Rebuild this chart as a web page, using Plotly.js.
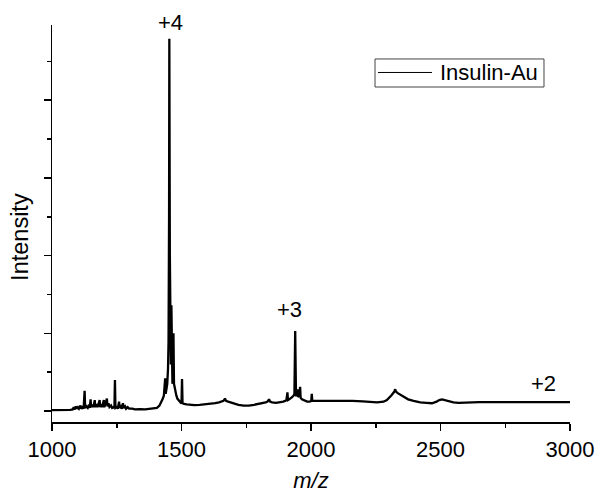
<!DOCTYPE html>
<html>
<head>
<meta charset="utf-8">
<script src="https://cdn.plot.ly/plotly-3.0.1.min.js"></script>
<style>html,body{margin:0;padding:0;background:#fff;}#chart{width:598px;height:493px;}</style>
</head>
<body>
<div id="chart"></div>
<script>
// m/z values (x) and intensity (arbitrary units, y)
const mz = [
  1000, 1040, 1070, 1080, 1084, 1087, 1092, 1095, 1100, 1104, 1110, 1113, 1118, 1122,
  1126, 1128, 1133, 1138, 1143, 1146, 1149, 1151, 1156, 1160, 1165, 1167, 1172, 1176,
  1180, 1184, 1186, 1190, 1194, 1200, 1202, 1206, 1212, 1214, 1218, 1222, 1228, 1232,
  1238, 1241, 1243, 1245, 1250, 1254, 1259, 1261, 1266, 1270, 1274, 1276, 1282, 1286,
  1292, 1298, 1310, 1320, 1340, 1360, 1380, 1395, 1405, 1415, 1422, 1428, 1432, 1435,
  1437, 1439, 1442, 1445, 1448, 1450, 1452, 1453, 1455, 1457, 1459, 1461, 1463, 1465,
  1467, 1469, 1471, 1474, 1477, 1480, 1484, 1488, 1492, 1496, 1500, 1502, 1504, 1510,
  1520, 1530, 1550, 1570, 1590, 1610, 1630, 1645, 1655, 1662, 1668, 1672, 1680, 1690,
  1700, 1720, 1740, 1760, 1780, 1800, 1815, 1825, 1832, 1838, 1842, 1850, 1865, 1880,
  1893, 1900, 1905, 1909, 1911, 1916, 1922, 1928, 1933, 1936, 1939, 1942, 1945, 1948,
  1950, 1955, 1958, 1960, 1965, 1970, 1978, 1985, 1995, 2001, 2003, 2005, 2015, 2040,
  2080, 2120, 2160, 2200, 2230, 2255, 2280, 2293, 2310, 2318, 2322, 2325, 2328, 2335,
  2345, 2357, 2375, 2396, 2422, 2445, 2467, 2485, 2495, 2506, 2518, 2530, 2550, 2570,
  2600, 2650, 2700, 2750, 2800, 2850, 2900, 2950, 3000
];
const intensity = [
  0.010, 0.010, 0.015, 0.020, 0.050, 0.020, 0.060, 0.030, 0.050, 0.030, 0.070, 0.030, 0.050, 0.030,
  0.260, 0.040, 0.060, 0.040, 0.080, 0.040, 0.150, 0.050, 0.080, 0.050, 0.140, 0.050, 0.090, 0.050,
  0.100, 0.140, 0.050, 0.090, 0.050, 0.140, 0.050, 0.100, 0.160, 0.060, 0.100, 0.050, 0.070, 0.040,
  0.050, 0.040, 0.400, 0.040, 0.050, 0.030, 0.120, 0.040, 0.060, 0.030, 0.100, 0.040, 0.060, 0.030,
  0.050, 0.030, 0.030, 0.020, 0.025, 0.020, 0.025, 0.030, 0.040, 0.070, 0.110, 0.160, 0.200, 0.300,
  0.420, 0.220, 0.280, 0.350, 0.550, 0.900, 2.500, 4.790, 2.000, 0.800, 0.600, 1.360, 0.500, 0.350,
  0.450, 1.000, 0.350, 0.300, 0.220, 0.200, 0.160, 0.140, 0.120, 0.110, 0.100, 0.410, 0.100, 0.090,
  0.085, 0.080, 0.075, 0.080, 0.085, 0.090, 0.100, 0.110, 0.120, 0.130, 0.160, 0.130, 0.120, 0.110,
  0.100, 0.080, 0.070, 0.070, 0.080, 0.090, 0.100, 0.110, 0.120, 0.150, 0.120, 0.110, 0.105, 0.110,
  0.120, 0.130, 0.140, 0.240, 0.140, 0.150, 0.160, 0.180, 0.200, 0.220, 1.030, 0.200, 0.200, 0.280,
  0.180, 0.200, 0.310, 0.170, 0.150, 0.140, 0.130, 0.120, 0.120, 0.130, 0.220, 0.130, 0.130, 0.130,
  0.135, 0.135, 0.130, 0.125, 0.115, 0.110, 0.120, 0.140, 0.200, 0.230, 0.250, 0.280, 0.250, 0.230,
  0.210, 0.180, 0.150, 0.130, 0.110, 0.105, 0.100, 0.120, 0.140, 0.150, 0.140, 0.125, 0.110, 0.105,
  0.110, 0.115, 0.115, 0.115, 0.115, 0.115, 0.115, 0.115, 0.115
];
const seriesName = "Insulin-Au";
const chargeLabels = ["+4", "+3", "+2"];
const chargeMz = [1456, 1918, 2899];
const chargeY = [5.0, 1.30, 0.36];
const xTickVals = [1000, 1500, 2000, 2500, 3000];
const xTickText = ["1000", "1500", "2000", "2500", "3000"];

const FONT = "Liberation Sans, Arial, sans-serif";
const Y_RANGE = [-0.1416, 4.968];

const trace = {
  x: mz, y: intensity, type: "scatter", mode: "lines",
  name: seriesName, showlegend: false,
  line: {color: "#000000", width: 2.3}
};

// charge-state labels; y converted to paper fraction so the +4 label above the axis top is still drawn
const annotations = chargeLabels.map((t, i) => ({
  x: chargeMz[i], xref: "x",
  y: (chargeY[i] - Y_RANGE[0]) / (Y_RANGE[1] - Y_RANGE[0]), yref: "paper",
  text: t, showarrow: false, xanchor: "center", yanchor: "middle",
  font: {family: FONT, size: 22, color: "#000"}
}));
annotations.push({
  x: -0.062, y: 0.466, xref: "paper", yref: "paper", text: "Intensity",
  textangle: -90, showarrow: false, xanchor: "center", yanchor: "middle",
  font: {family: FONT, size: 23.5, color: "#000"}
});
annotations.push({
  x: 0.7452, y: 0.8804, xref: "paper", yref: "paper", text: seriesName,
  showarrow: false, xanchor: "left", yanchor: "middle",
  font: {family: FONT, size: 22, color: "#000"}
});

const layout = {
  width: 598, height: 493,
  margin: {l: 52, r: 28, t: 25, b: 71},
  paper_bgcolor: "#fff", plot_bgcolor: "#fff",
  font: {family: FONT, color: "#000"},
  xaxis: {
    range: [1000, 3000], tickvals: xTickVals, ticktext: xTickText,
    ticks: "outside", ticklen: 7, tickwidth: 1.5, tickcolor: "#000",
    showline: true, linecolor: "#000", linewidth: 1.5,
    showgrid: false, zeroline: false,
    tickfont: {family: FONT, size: 22, color: "#000"},
    minor: {dtick: 250, tick0: 1000, ticks: "outside", ticklen: 4, tickwidth: 1.5, tickcolor: "#000", showgrid: false},
    title: {text: "<i>m/z</i>", font: {family: FONT, size: 22, color: "#000"}, standoff: 12}
  },
  yaxis: {
    range: Y_RANGE, dtick: 1, tick0: 0,
    ticks: "outside", ticklen: 7, tickwidth: 1.5, tickcolor: "#000",
    showticklabels: false,
    showline: true, linecolor: "#000", linewidth: 1.5,
    showgrid: false, zeroline: false,
    minor: {dtick: 0.5, tick0: 0, ticks: "outside", ticklen: 4, tickwidth: 1.5, tickcolor: "#000", showgrid: false}
  },
  shapes: [
    {type: "rect", xref: "paper", yref: "paper", x0: 0.6236, x1: 0.9498, y0: 0.8438, y1: 0.9144,
     line: {color: "#444", width: 1}, fillcolor: "rgba(0,0,0,0)"},
    {type: "line", xref: "paper", yref: "paper", x0: 0.6293, x1: 0.7336, y0: 0.8804, y1: 0.8804,
     line: {color: "#000", width: 1}}
  ],
  annotations: annotations
};

Plotly.newPlot("chart", [trace], layout, {displayModeBar: false, staticPlot: true});
</script>
</body>
</html>
